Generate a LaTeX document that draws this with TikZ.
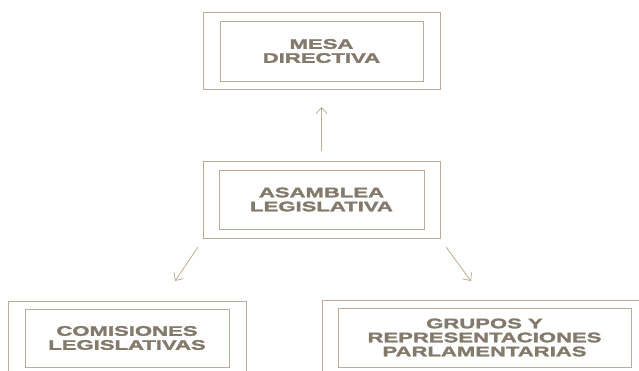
\documentclass[tikz,border=0pt]{standalone}
\usepackage{fontspec}
\usetikzlibrary{arrows.meta}
\newfontfamily\boxfont{Liberation Sans}[UprightFont={* Bold}, FakeStretch=1.6, FakeBold=2.2]
\definecolor{lineC}{HTML}{C0AA93}
\definecolor{textC}{HTML}{847A6C}
\tikzset{
  outerbox/.style={draw=lineC, line width=0.9pt, minimum width=237pt, minimum height=77pt, inner sep=0pt},
  innerbox/.style={draw=lineC, line width=0.9pt, inner sep=0pt, align=center, text=textC,
    font=\boxfont\fontsize{13.8}{14}\selectfont},
  conn/.style={draw=lineC, line width=0.8pt, -{Straight Barb[length=6pt,width=11pt]}}
}
\begin{document}
\begin{tikzpicture}[x=1pt,y=-1pt]
\useasboundingbox (0,0) rectangle (639,370);
\clip (0,0) rectangle (639,370);
% top
\node[outerbox] (mesaO) at (321.5,50.5) {};
\node[innerbox, minimum width=203pt, minimum height=60pt] (mesa) at (321.5,51) {MESA\\DIRECTIVA};
% middle
\node[outerbox] (asamO) at (321.5,199.5) {};
\node[innerbox, minimum width=205pt, minimum height=59pt] (asam) at (321.5,199.5) {ASAMBLEA\\LEGISLATIVA};
% bottom left
\draw[draw=lineC, line width=0.9pt] (8,400) -- (8,301) -- (246,301) -- (246,400);
\node[innerbox, minimum width=204pt, minimum height=58pt] (comi) at (127,338) {COMISIONES\\LEGISLATIVAS};
% bottom right
\draw[draw=lineC, line width=0.9pt] (322,400) -- (322,300) -- (680,300);
\node[innerbox, minimum width=293pt, minimum height=59pt] (grup) at (484.5,337.5) {GRUPOS Y\\REPRESENTACIONES\\PARLAMENTARIAS};
% connectors
\coordinate (upS) at (321.5,151);
\coordinate (upE) at (321.5,107);
\coordinate (lS) at (198,247);
\coordinate (lE) at (175,281);
\coordinate (rS) at (446,247);
\coordinate (rE) at (471,281);
\draw[conn] (upS) -- (upE);
\draw[conn] (lS) -- (lE);
\draw[conn] (rS) -- (rE);
\end{tikzpicture}
\end{document}
